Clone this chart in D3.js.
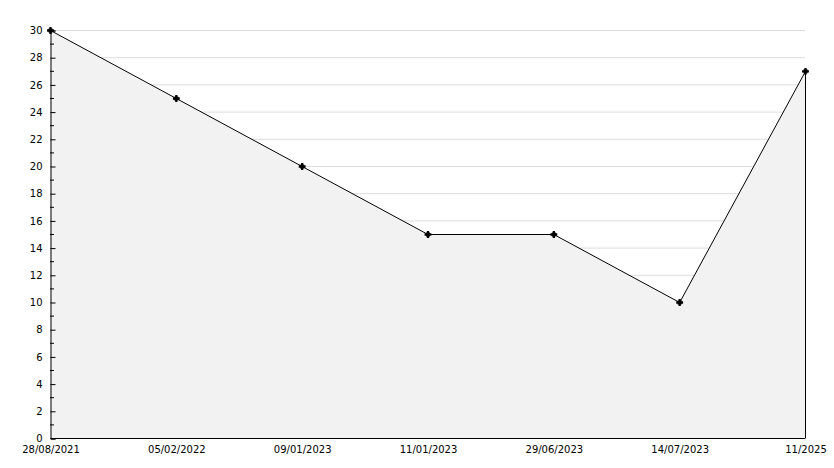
<!DOCTYPE html>
<html><head><meta charset="utf-8">
<script src="https://cdn.jsdelivr.net/npm/d3@7"></script>
<style>body{margin:0;background:#fff}svg{display:block}text{font-family:"DejaVu Sans",sans-serif;font-size:10px;fill:#000}</style>
</head><body><svg id="c" width="834" height="468"></svg>
<script>
const categories = ["28/08/2021","05/02/2022","09/01/2023","11/01/2023","29/06/2023","14/07/2023","11/2025"];
const values = [30,25,20,15,15,10,27];
const yTicks = [0,2,4,6,8,10,12,14,16,18,20,22,24,26,28,30];
const yMinor = [1,3,5,7,9,11,13,15,17,19,21,23,25,27,29];

const svg = d3.select("#c");
const L=50,R=805,T=30,B=438;
const x = d3.scalePoint().domain(categories).range([L,R]);
const y = d3.scaleLinear().domain([0,30]).range([B,T]);
const data = categories.map((c,i)=>({c,v:values[i]}));

// gridlines
svg.append("g").selectAll("line").data(yTicks.filter(d=>d>0)).join("line")
  .attr("x1",L).attr("x2",R).attr("y1",d=>y(d)+0.5).attr("y2",d=>y(d)+0.5)
  .attr("stroke","#dddddd").attr("stroke-width",1);

// area
const area = d3.area().x(d=>x(d.c)+0.5).y0(B+0.5).y1(d=>y(d.v)+0.5);
svg.append("path").datum(data).attr("d",area).attr("fill","#f2f2f2").attr("stroke","none");
// right edge
svg.append("line").attr("x1",R+0.5).attr("x2",R+0.5).attr("y1",y(values[values.length-1])).attr("y2",B)
  .attr("stroke","#000");

// line
const line = d3.line().x(d=>x(d.c)+0.5).y(d=>y(d.v)+0.5);
svg.append("path").datum(data).attr("d",line).attr("fill","none").attr("stroke","#000").attr("stroke-width",1);

// y axis
const yAxis = d3.axisRight(y).tickValues(yTicks).tickSize(5).tickFormat(d3.format("d"));
const gy = svg.append("g").attr("transform",`translate(${L+0.5},0.5)`).call(yAxis);
gy.select(".domain").attr("stroke","#000");
gy.selectAll(".tick line").attr("stroke","#000");
gy.selectAll(".tick text").attr("x",-8).attr("text-anchor","end").attr("fill","#000").style("font-family","'DejaVu Sans',sans-serif").style("font-size","10px");
svg.append("g").selectAll("line").data(yMinor).join("line")
  .attr("x1",L).attr("x2",L+4).attr("y1",d=>y(d)+0.5).attr("y2",d=>y(d)+0.5).attr("stroke","#000");

// x axis
const xAxis = d3.axisBottom(x).tickSize(0).tickPadding(7);
const gx = svg.append("g").attr("transform",`translate(0.5,${B+0.5})`).call(xAxis);
gx.select(".domain").attr("stroke","#000").attr("d",`M${L},0H${R}`);
gx.selectAll(".tick text").attr("fill","#000").style("font-family","'DejaVu Sans',sans-serif").style("font-size","10px");

// markers
svg.append("g").selectAll("path").data(data).join("path")
  .attr("transform",d=>`translate(${x(d.c)+0.5},${y(d.v)+0.5})`)
  .attr("d",d3.symbol().type(d3.symbolCross).size(26)).attr("fill","#000");
svg.append("g").selectAll("rect").data(data).join("rect")
  .attr("x",d=>x(d.c)-1.5).attr("y",d=>y(d.v)-1.5).attr("width",4).attr("height",4).attr("fill","#000");
</script></body></html>
